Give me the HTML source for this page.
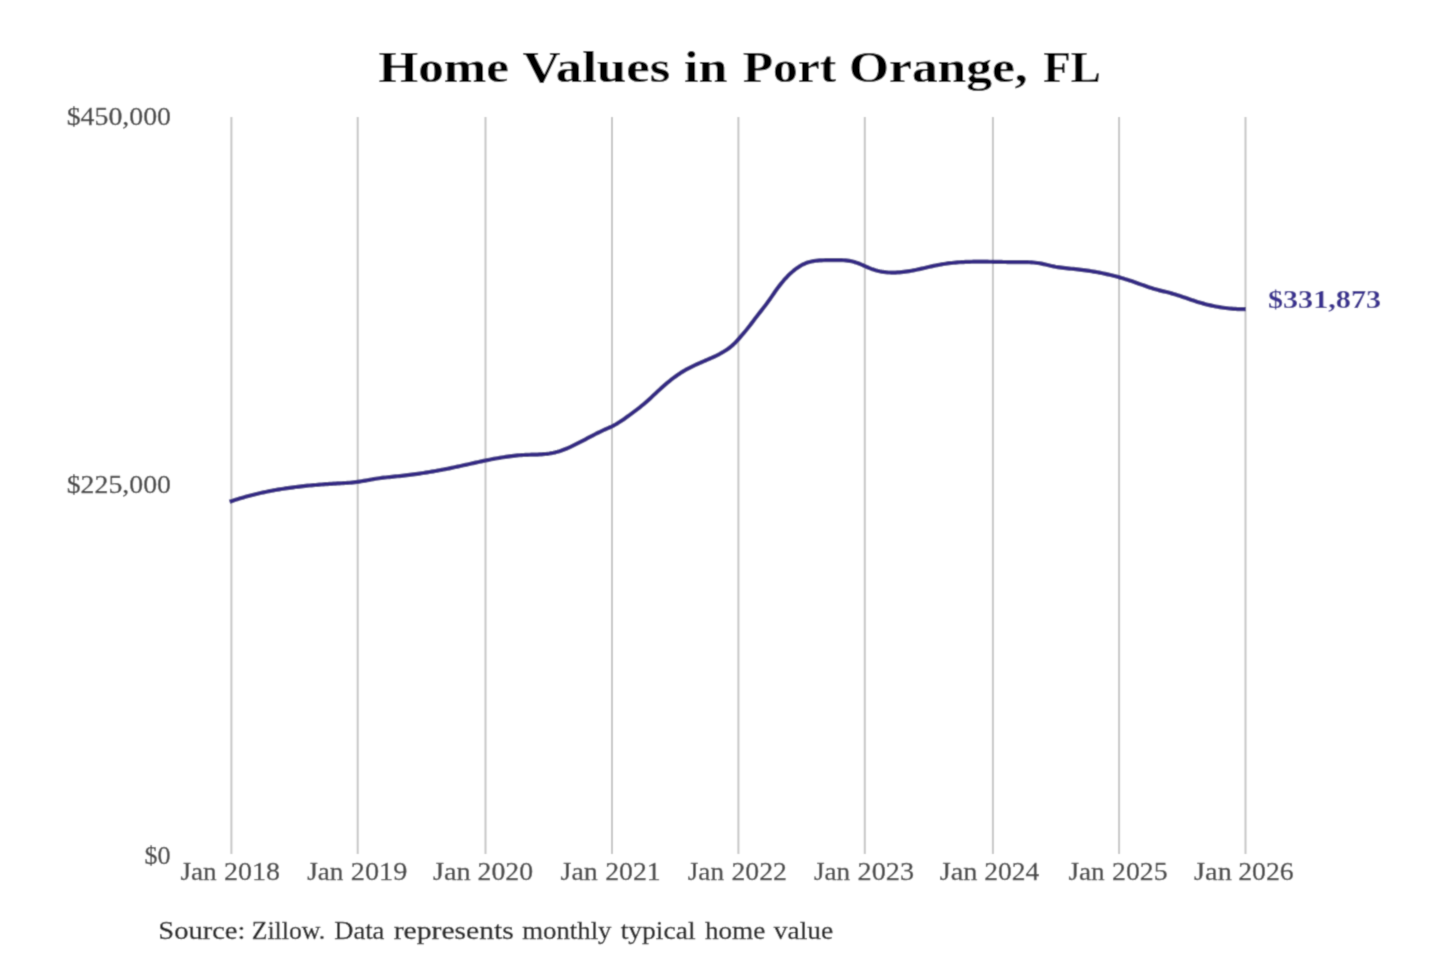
<!DOCTYPE html>
<html><head><meta charset="utf-8"><title>Home Values in Port Orange, FL</title><style>
html,body{margin:0;padding:0;background:#fff;overflow:hidden;}
svg{display:block;}
text{font-family:"Liberation Serif",serif;}
</style></head><body>
<svg width="1440" height="960" viewBox="0 0 1440 960">
<defs><filter id="soft" x="0" y="0" width="1440" height="960" filterUnits="userSpaceOnUse"><feConvolveMatrix order="3" kernelMatrix="0.0277 0.1108 0.0277 0.1108 0.4460 0.1108 0.0277 0.1108 0.0277" edgeMode="duplicate"/></filter></defs>
<rect width="1440" height="960" fill="#fff"/>
<g filter="url(#soft)">
<rect width="1440" height="960" fill="#fff"/>
<g stroke="#c6c6c6" stroke-width="2"><line x1="231.4" y1="117" x2="231.4" y2="854"/><line x1="357.7" y1="117" x2="357.7" y2="854"/><line x1="485.5" y1="117" x2="485.5" y2="854"/><line x1="612.0" y1="117" x2="612.0" y2="854"/><line x1="738.4" y1="117" x2="738.4" y2="854"/><line x1="864.8" y1="117" x2="864.8" y2="854"/><line x1="992.9" y1="117" x2="992.9" y2="854"/><line x1="1119.1" y1="117" x2="1119.1" y2="854"/><line x1="1245.5" y1="117" x2="1245.5" y2="854"/></g>
<path d="M229.5,501.85 L231.5,501.16 L233.5,500.49 L235.5,499.84 L237.5,499.21 L239.5,498.59 L241.5,497.99 L243.5,497.40 L245.5,496.83 L247.5,496.28 L249.5,495.74 L251.5,495.22 L253.5,494.71 L255.5,494.22 L257.5,493.74 L259.5,493.27 L261.5,492.82 L263.5,492.38 L265.5,491.96 L267.5,491.55 L269.5,491.15 L271.5,490.77 L273.5,490.40 L275.5,490.04 L277.5,489.69 L279.5,489.35 L281.5,489.02 L283.5,488.71 L285.5,488.41 L287.5,488.11 L289.5,487.83 L291.5,487.56 L293.5,487.30 L295.5,487.04 L297.5,486.80 L299.5,486.56 L301.5,486.34 L303.5,486.12 L305.5,485.91 L307.5,485.71 L309.5,485.52 L311.5,485.33 L313.5,485.15 L315.5,484.98 L317.5,484.81 L319.5,484.65 L321.5,484.50 L323.5,484.35 L325.5,484.21 L327.5,484.08 L329.5,483.95 L331.5,483.82 L333.5,483.70 L335.5,483.58 L337.5,483.47 L339.5,483.36 L341.5,483.25 L343.5,483.14 L345.5,483.02 L347.5,482.88 L349.5,482.73 L351.5,482.56 L353.5,482.36 L355.5,482.14 L357.5,481.88 L359.5,481.59 L361.5,481.27 L363.5,480.93 L365.5,480.57 L367.5,480.20 L369.5,479.83 L371.5,479.47 L373.5,479.12 L375.5,478.80 L377.5,478.49 L379.5,478.21 L381.5,477.95 L383.5,477.71 L385.5,477.48 L387.5,477.26 L389.5,477.05 L391.5,476.85 L393.5,476.65 L395.5,476.45 L397.5,476.25 L399.5,476.04 L401.5,475.83 L403.5,475.61 L405.5,475.38 L407.5,475.14 L409.5,474.90 L411.5,474.64 L413.5,474.38 L415.5,474.11 L417.5,473.84 L419.5,473.55 L421.5,473.26 L423.5,472.96 L425.5,472.65 L427.5,472.33 L429.5,472.01 L431.5,471.67 L433.5,471.33 L435.5,470.98 L437.5,470.63 L439.5,470.26 L441.5,469.89 L443.5,469.51 L445.5,469.12 L447.5,468.72 L449.5,468.32 L451.5,467.91 L453.5,467.49 L455.5,467.06 L457.5,466.63 L459.5,466.20 L461.5,465.76 L463.5,465.32 L465.5,464.87 L467.5,464.43 L469.5,463.98 L471.5,463.54 L473.5,463.09 L475.5,462.65 L477.5,462.21 L479.5,461.78 L481.5,461.35 L483.5,460.93 L485.5,460.51 L487.5,460.10 L489.5,459.70 L491.5,459.31 L493.5,458.93 L495.5,458.56 L497.5,458.20 L499.5,457.85 L501.5,457.52 L503.5,457.20 L505.5,456.90 L507.5,456.61 L509.5,456.34 L511.5,456.09 L513.5,455.86 L515.5,455.64 L517.5,455.45 L519.5,455.28 L521.5,455.13 L523.5,455.00 L525.5,454.90 L527.5,454.82 L529.5,454.76 L531.5,454.70 L533.5,454.65 L535.5,454.59 L537.5,454.53 L539.5,454.44 L541.5,454.33 L543.5,454.19 L545.5,454.02 L547.5,453.79 L549.5,453.52 L551.5,453.19 L553.5,452.79 L555.5,452.33 L557.5,451.79 L559.5,451.18 L561.5,450.52 L563.5,449.79 L565.5,449.01 L567.5,448.19 L569.5,447.31 L571.5,446.40 L573.5,445.46 L575.5,444.48 L577.5,443.47 L579.5,442.45 L581.5,441.40 L583.5,440.34 L585.5,439.28 L587.5,438.21 L589.5,437.14 L591.5,436.08 L593.5,435.03 L595.5,434.00 L597.5,433.00 L599.5,432.01 L601.5,431.06 L603.5,430.15 L605.5,429.28 L607.5,428.42 L609.5,427.55 L611.5,426.63 L613.5,425.62 L615.5,424.52 L617.5,423.34 L619.5,422.09 L621.5,420.77 L623.5,419.40 L625.5,417.99 L627.5,416.55 L629.5,415.08 L631.5,413.59 L633.5,412.10 L635.5,410.60 L637.5,409.09 L639.5,407.54 L641.5,405.96 L643.5,404.34 L645.5,402.66 L647.5,400.91 L649.5,399.09 L651.5,397.23 L653.5,395.34 L655.5,393.44 L657.5,391.55 L659.5,389.69 L661.5,387.86 L663.5,386.08 L665.5,384.35 L667.5,382.66 L669.5,381.03 L671.5,379.44 L673.5,377.91 L675.5,376.44 L677.5,375.02 L679.5,373.66 L681.5,372.36 L683.5,371.13 L685.5,369.96 L687.5,368.85 L689.5,367.80 L691.5,366.79 L693.5,365.83 L695.5,364.90 L697.5,364.00 L699.5,363.12 L701.5,362.25 L703.5,361.39 L705.5,360.54 L707.5,359.67 L709.5,358.80 L711.5,357.91 L713.5,356.99 L715.5,356.04 L717.5,355.04 L719.5,354.01 L721.5,352.92 L723.5,351.77 L725.5,350.54 L727.5,349.21 L729.5,347.75 L731.5,346.14 L733.5,344.36 L735.5,342.39 L737.5,340.25 L739.5,338.01 L741.5,335.72 L743.5,333.38 L745.5,330.99 L747.5,328.52 L749.5,325.99 L751.5,323.39 L753.5,320.75 L755.5,318.10 L757.5,315.48 L759.5,312.90 L761.5,310.36 L763.5,307.81 L765.5,305.21 L767.5,302.52 L769.5,299.71 L771.5,296.83 L773.5,293.94 L775.5,291.07 L777.5,288.29 L779.5,285.64 L781.5,283.12 L783.5,280.72 L785.5,278.46 L787.5,276.33 L789.5,274.33 L791.5,272.47 L793.5,270.75 L795.5,269.16 L797.5,267.71 L799.5,266.40 L801.5,265.23 L803.5,264.21 L805.5,263.33 L807.5,262.58 L809.5,261.97 L811.5,261.48 L813.5,261.08 L815.5,260.78 L817.5,260.56 L819.5,260.40 L821.5,260.30 L823.5,260.24 L825.5,260.20 L827.5,260.18 L829.5,260.17 L831.5,260.15 L833.5,260.12 L835.5,260.09 L837.5,260.09 L839.5,260.10 L841.5,260.16 L843.5,260.25 L845.5,260.41 L847.5,260.63 L849.5,260.92 L851.5,261.30 L853.5,261.78 L855.5,262.37 L857.5,263.05 L859.5,263.83 L861.5,264.66 L863.5,265.53 L865.5,266.41 L867.5,267.29 L869.5,268.12 L871.5,268.90 L873.5,269.60 L875.5,270.22 L877.5,270.76 L879.5,271.22 L881.5,271.61 L883.5,271.94 L885.5,272.19 L887.5,272.38 L889.5,272.51 L891.5,272.58 L893.5,272.59 L895.5,272.55 L897.5,272.46 L899.5,272.33 L901.5,272.15 L903.5,271.93 L905.5,271.68 L907.5,271.39 L909.5,271.07 L911.5,270.71 L913.5,270.34 L915.5,269.94 L917.5,269.52 L919.5,269.08 L921.5,268.64 L923.5,268.18 L925.5,267.72 L927.5,267.26 L929.5,266.80 L931.5,266.35 L933.5,265.92 L935.5,265.49 L937.5,265.09 L939.5,264.71 L941.5,264.36 L943.5,264.03 L945.5,263.73 L947.5,263.45 L949.5,263.20 L951.5,262.97 L953.5,262.76 L955.5,262.58 L957.5,262.41 L959.5,262.27 L961.5,262.14 L963.5,262.03 L965.5,261.93 L967.5,261.86 L969.5,261.79 L971.5,261.74 L973.5,261.70 L975.5,261.68 L977.5,261.66 L979.5,261.65 L981.5,261.66 L983.5,261.67 L985.5,261.68 L987.5,261.71 L989.5,261.73 L991.5,261.76 L993.5,261.80 L995.5,261.84 L997.5,261.87 L999.5,261.91 L1001.5,261.95 L1003.5,261.98 L1005.5,262.01 L1007.5,262.04 L1009.5,262.07 L1011.5,262.08 L1013.5,262.10 L1015.5,262.10 L1017.5,262.10 L1019.5,262.09 L1021.5,262.09 L1023.5,262.11 L1025.5,262.13 L1027.5,262.19 L1029.5,262.26 L1031.5,262.38 L1033.5,262.53 L1035.5,262.73 L1037.5,262.98 L1039.5,263.29 L1041.5,263.66 L1043.5,264.09 L1045.5,264.54 L1047.5,265.02 L1049.5,265.49 L1051.5,265.94 L1053.5,266.36 L1055.5,266.74 L1057.5,267.07 L1059.5,267.38 L1061.5,267.65 L1063.5,267.90 L1065.5,268.14 L1067.5,268.35 L1069.5,268.56 L1071.5,268.76 L1073.5,268.96 L1075.5,269.16 L1077.5,269.37 L1079.5,269.60 L1081.5,269.83 L1083.5,270.09 L1085.5,270.35 L1087.5,270.64 L1089.5,270.93 L1091.5,271.25 L1093.5,271.58 L1095.5,271.92 L1097.5,272.28 L1099.5,272.66 L1101.5,273.05 L1103.5,273.46 L1105.5,273.89 L1107.5,274.34 L1109.5,274.80 L1111.5,275.28 L1113.5,275.78 L1115.5,276.29 L1117.5,276.83 L1119.5,277.38 L1121.5,277.95 L1123.5,278.55 L1125.5,279.16 L1127.5,279.79 L1129.5,280.43 L1131.5,281.10 L1133.5,281.79 L1135.5,282.49 L1137.5,283.21 L1139.5,283.92 L1141.5,284.64 L1143.5,285.35 L1145.5,286.06 L1147.5,286.75 L1149.5,287.42 L1151.5,288.08 L1153.5,288.70 L1155.5,289.29 L1157.5,289.85 L1159.5,290.37 L1161.5,290.87 L1163.5,291.34 L1165.5,291.82 L1167.5,292.30 L1169.5,292.81 L1171.5,293.35 L1173.5,293.92 L1175.5,294.52 L1177.5,295.16 L1179.5,295.81 L1181.5,296.48 L1183.5,297.16 L1185.5,297.85 L1187.5,298.55 L1189.5,299.24 L1191.5,299.92 L1193.5,300.59 L1195.5,301.25 L1197.5,301.88 L1199.5,302.49 L1201.5,303.07 L1203.5,303.63 L1205.5,304.16 L1207.5,304.67 L1209.5,305.15 L1211.5,305.61 L1213.5,306.04 L1215.5,306.44 L1217.5,306.81 L1219.5,307.16 L1221.5,307.48 L1223.5,307.78 L1225.5,308.04 L1227.5,308.28 L1229.5,308.49 L1231.5,308.68 L1233.5,308.83 L1235.5,308.96 L1237.5,309.05 L1239.5,309.12 L1241.5,309.16 L1243.5,309.17 L1245.8,309.15" fill="none" stroke="#352c84" stroke-width="4.2" stroke-linejoin="round"/>
<text x="378.60" y="81.5" font-size="44" font-weight="bold" fill="#000" textLength="130.30" lengthAdjust="spacingAndGlyphs">Home</text>
<text x="522.50" y="81.5" font-size="44" font-weight="bold" fill="#000" textLength="147.70" lengthAdjust="spacingAndGlyphs">Values</text>
<text x="684.00" y="81.5" font-size="44" font-weight="bold" fill="#000" textLength="43.40" lengthAdjust="spacingAndGlyphs">in</text>
<text x="742.80" y="81.5" font-size="44" font-weight="bold" fill="#000" textLength="93.40" lengthAdjust="spacingAndGlyphs">Port</text>
<text x="849.00" y="81.5" font-size="44" font-weight="bold" fill="#000" textLength="178.70" lengthAdjust="spacingAndGlyphs">Orange,</text>
<text x="1043.30" y="81.5" font-size="44" font-weight="bold" fill="#000" textLength="57.50" lengthAdjust="spacingAndGlyphs">FL</text>
<text x="66.70" y="124.6" font-size="25" stroke="#4a4a4a" stroke-width="0.35" stroke-linejoin="round" fill="#4a4a4a" textLength="104.30" lengthAdjust="spacingAndGlyphs">$450,000</text>
<text x="66.70" y="492.6" font-size="25" stroke="#4a4a4a" stroke-width="0.35" stroke-linejoin="round" fill="#4a4a4a" textLength="104.30" lengthAdjust="spacingAndGlyphs">$225,000</text>
<text x="144.50" y="863.6" font-size="25" stroke="#4a4a4a" stroke-width="0.35" stroke-linejoin="round" fill="#4a4a4a" textLength="26.10" lengthAdjust="spacingAndGlyphs">$0</text>
<text x="180.50" y="879.6" font-size="25.5" stroke="#4a4a4a" stroke-width="0.35" stroke-linejoin="round" fill="#4a4a4a" textLength="36.20" lengthAdjust="spacingAndGlyphs">Jan</text>
<text x="224.10" y="879.6" font-size="25.5" stroke="#4a4a4a" stroke-width="0.35" stroke-linejoin="round" fill="#4a4a4a" textLength="56.00" lengthAdjust="spacingAndGlyphs">2018</text>
<text x="307.20" y="879.6" font-size="25.5" stroke="#4a4a4a" stroke-width="0.35" stroke-linejoin="round" fill="#4a4a4a" textLength="36.20" lengthAdjust="spacingAndGlyphs">Jan</text>
<text x="350.80" y="879.6" font-size="25.5" stroke="#4a4a4a" stroke-width="0.35" stroke-linejoin="round" fill="#4a4a4a" textLength="56.50" lengthAdjust="spacingAndGlyphs">2019</text>
<text x="432.90" y="879.6" font-size="25.5" stroke="#4a4a4a" stroke-width="0.35" stroke-linejoin="round" fill="#4a4a4a" textLength="37.70" lengthAdjust="spacingAndGlyphs">Jan</text>
<text x="477.50" y="879.6" font-size="25.5" stroke="#4a4a4a" stroke-width="0.35" stroke-linejoin="round" fill="#4a4a4a" textLength="55.50" lengthAdjust="spacingAndGlyphs">2020</text>
<text x="560.60" y="879.6" font-size="25.5" stroke="#4a4a4a" stroke-width="0.35" stroke-linejoin="round" fill="#4a4a4a" textLength="37.20" lengthAdjust="spacingAndGlyphs">Jan</text>
<text x="605.20" y="879.6" font-size="25.5" stroke="#4a4a4a" stroke-width="0.35" stroke-linejoin="round" fill="#4a4a4a" textLength="55.50" lengthAdjust="spacingAndGlyphs">2021</text>
<text x="687.80" y="879.6" font-size="25.5" stroke="#4a4a4a" stroke-width="0.35" stroke-linejoin="round" fill="#4a4a4a" textLength="36.20" lengthAdjust="spacingAndGlyphs">Jan</text>
<text x="731.40" y="879.6" font-size="25.5" stroke="#4a4a4a" stroke-width="0.35" stroke-linejoin="round" fill="#4a4a4a" textLength="55.50" lengthAdjust="spacingAndGlyphs">2022</text>
<text x="814.00" y="879.6" font-size="25.5" stroke="#4a4a4a" stroke-width="0.35" stroke-linejoin="round" fill="#4a4a4a" textLength="36.20" lengthAdjust="spacingAndGlyphs">Jan</text>
<text x="857.60" y="879.6" font-size="25.5" stroke="#4a4a4a" stroke-width="0.35" stroke-linejoin="round" fill="#4a4a4a" textLength="56.50" lengthAdjust="spacingAndGlyphs">2023</text>
<text x="939.70" y="879.6" font-size="25.5" stroke="#4a4a4a" stroke-width="0.35" stroke-linejoin="round" fill="#4a4a4a" textLength="37.70" lengthAdjust="spacingAndGlyphs">Jan</text>
<text x="984.30" y="879.6" font-size="25.5" stroke="#4a4a4a" stroke-width="0.35" stroke-linejoin="round" fill="#4a4a4a" textLength="55.00" lengthAdjust="spacingAndGlyphs">2024</text>
<text x="1068.40" y="879.6" font-size="25.5" stroke="#4a4a4a" stroke-width="0.35" stroke-linejoin="round" fill="#4a4a4a" textLength="36.20" lengthAdjust="spacingAndGlyphs">Jan</text>
<text x="1112.00" y="879.6" font-size="25.5" stroke="#4a4a4a" stroke-width="0.35" stroke-linejoin="round" fill="#4a4a4a" textLength="55.50" lengthAdjust="spacingAndGlyphs">2025</text>
<text x="1194.10" y="879.6" font-size="25.5" stroke="#4a4a4a" stroke-width="0.35" stroke-linejoin="round" fill="#4a4a4a" textLength="37.70" lengthAdjust="spacingAndGlyphs">Jan</text>
<text x="1238.20" y="879.6" font-size="25.5" stroke="#4a4a4a" stroke-width="0.35" stroke-linejoin="round" fill="#4a4a4a" textLength="55.50" lengthAdjust="spacingAndGlyphs">2026</text>
<text x="1267.90" y="307.8" font-size="24.2" font-weight="bold" fill="#3a3290" textLength="113.20" lengthAdjust="spacingAndGlyphs">$331,873</text>
<text x="158.30" y="938.5" font-size="26" stroke="#262626" stroke-width="0.35" stroke-linejoin="round" fill="#262626" textLength="87.10" lengthAdjust="spacingAndGlyphs">Source:</text>
<text x="251.70" y="938.5" font-size="26" stroke="#262626" stroke-width="0.35" stroke-linejoin="round" fill="#262626" textLength="73.50" lengthAdjust="spacingAndGlyphs">Zillow.</text>
<text x="334.30" y="938.5" font-size="26" stroke="#262626" stroke-width="0.35" stroke-linejoin="round" fill="#262626" textLength="50.10" lengthAdjust="spacingAndGlyphs">Data</text>
<text x="393.70" y="938.5" font-size="26" stroke="#262626" stroke-width="0.35" stroke-linejoin="round" fill="#262626" textLength="120.20" lengthAdjust="spacingAndGlyphs">represents</text>
<text x="522.20" y="938.5" font-size="26" stroke="#262626" stroke-width="0.35" stroke-linejoin="round" fill="#262626" textLength="89.30" lengthAdjust="spacingAndGlyphs">monthly</text>
<text x="620.70" y="938.5" font-size="26" stroke="#262626" stroke-width="0.35" stroke-linejoin="round" fill="#262626" textLength="74.90" lengthAdjust="spacingAndGlyphs">typical</text>
<text x="704.90" y="938.5" font-size="26" stroke="#262626" stroke-width="0.35" stroke-linejoin="round" fill="#262626" textLength="60.40" lengthAdjust="spacingAndGlyphs">home</text>
<text x="773.80" y="938.5" font-size="26" stroke="#262626" stroke-width="0.35" stroke-linejoin="round" fill="#262626" textLength="59.50" lengthAdjust="spacingAndGlyphs">value</text>
</g>
</svg>
</body></html>
